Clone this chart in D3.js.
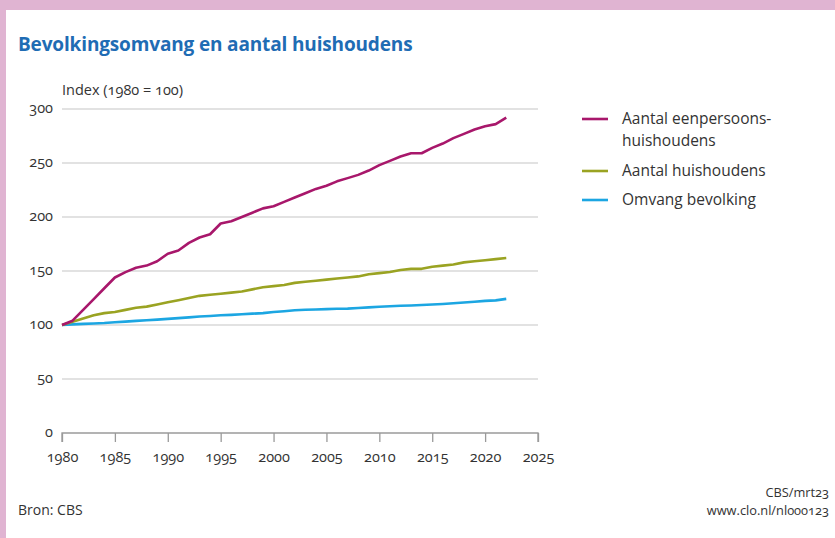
<!DOCTYPE html>
<html>
<head>
<meta charset="utf-8">
<script src="https://cdn.jsdelivr.net/npm/d3@7"></script>
<style>
  html, body { margin: 0; padding: 0; background: #ffffff; }
  svg { display: block; font-family: "Open Sans", "Noto Sans", sans-serif; font-feature-settings: "onum"; }
</style>
</head>
<body>
<svg id="chart" width="835" height="538"></svg>
<script>
const years = d3.range(1980, 2023);
const eenpersoons = [100,104,114,124,134,144,149,153,155,159,166,169,176,181,184,194,196,200,204,208,210,214,218,222,226,229,233,236,239,243,248,252,256,259,259,264,268,273,277,281,284,286,292];
const huishoudens = [100,103,106,109,111,112,114,116,117,119,121,123,125,127,128,129,130,131,133,135,136,137,139,140,141,142,143,144,145,147,148,149,151,152,152,154,155,156,158,159,160,161,162];
const bevolking = [100,100.6,101.0,101.4,101.8,102.5,103.1,103.8,104.4,105.0,105.7,106.4,107.1,107.8,108.4,109.0,109.4,110.0,110.5,111.0,112.0,112.8,113.6,114.1,114.4,114.7,115.0,115.2,115.7,116.3,116.9,117.4,117.8,118.1,118.5,119.0,119.5,120.1,120.8,121.5,122.3,122.8,124.2];
const seriesNames = ["Aantal eenpersoons-\nhuishoudens", "Aantal huishoudens", "Omvang bevolking"];
const seriesColors = ["#a8176b", "#9aa322", "#1ca6e2"];
const yTicks = [0, 50, 100, 150, 200, 250, 300];
const xTicks = [1980, 1985, 1990, 1995, 2000, 2005, 2010, 2015, 2020, 2025];

const svg = d3.select("#chart");

// frame
svg.append("rect").attr("x", 0).attr("y", 0).attr("width", 835).attr("height", 10).attr("fill", "#e0b4d2");
svg.append("rect").attr("x", 0).attr("y", 0).attr("width", 6).attr("height", 538).attr("fill", "#e0b4d2");

const x = d3.scaleLinear().domain([1980, 2025]).range([62, 538]);
const y = d3.scaleLinear().domain([0, 300]).range([433, 109]);

// title
svg.append("text").attr("x", 18).attr("y", 51)
  .attr("fill", "#1f6cb4").attr("font-size", 19).attr("font-weight", 700)
  .attr("letter-spacing", -0.15)
  .text("Bevolkingsomvang en aantal huishoudens");

svg.append("text").attr("x", 62).attr("y", 95)
  .attr("fill", "#333").attr("font-size", 14.5)
  .text("Index (1980 = 100)");

// grid
svg.append("g").selectAll("line").data(yTicks.filter(d => d > 0)).join("line")
  .attr("x1", x(1980)).attr("x2", x(2025))
  .attr("y1", d => y(d)).attr("y2", d => y(d))
  .attr("stroke", "#e2e2e2").attr("stroke-width", 2);

// y labels
svg.append("g").selectAll("text").data(yTicks).join("text")
  .attr("x", 53).attr("y", d => y(d)).attr("dy", "0.3em")
  .attr("text-anchor", "end").attr("fill", "#333").attr("font-size", 14.5)
  .text(d => d);

// x axis
const xAxis = d3.axisBottom(x).tickValues(xTicks).tickFormat(d3.format("d")).tickSize(9).tickPadding(10);
const gx = svg.append("g").attr("transform", `translate(0,${y(0)})`).call(xAxis);
gx.select(".domain").attr("stroke", "#9a9a9a").attr("stroke-width", 1.3).attr("d", `M${x(1980)},9V0H${x(2025)}V9`);
gx.selectAll(".tick line").attr("stroke", "#9a9a9a").attr("stroke-width", 1.3);
gx.selectAll(".tick text").attr("fill", "#333").attr("font-size", 14.5)
  .attr("font-family", "Open Sans, sans-serif");

// lines
const allSeries = [eenpersoons, huishoudens, bevolking];
const line = d3.line().x((d, i) => x(years[i])).y(d => y(d));
[2, 1, 0].forEach(k => {
  svg.append("path").datum(allSeries[k])
    .attr("d", line).attr("fill", "none")
    .attr("stroke", seriesColors[k]).attr("stroke-width", 2.6)
    .attr("stroke-linejoin", "round");
});

// legend
const legendY = [119, 171, 200];
seriesNames.forEach((name, k) => {
  const g = svg.append("g");
  g.append("line").attr("x1", 582).attr("x2", 608)
    .attr("y1", legendY[k]).attr("y2", legendY[k])
    .attr("stroke", seriesColors[k]).attr("stroke-width", 2.6);
  const t = g.append("text").attr("x", 622).attr("y", legendY[k] + 5)
    .attr("fill", "#333").attr("font-size", 15.5);
  name.split("\n").forEach((s, j) => {
    t.append("tspan").attr("x", 622).attr("dy", j === 0 ? 0 : 22).text(s);
  });
});

// footer
svg.append("text").attr("x", 18).attr("y", 515).attr("fill", "#333").attr("font-size", 14).text("Bron: CBS");
svg.append("text").attr("x", 829).attr("y", 497).attr("text-anchor", "end").attr("fill", "#333").attr("font-size", 12.8).text("CBS/mrt23");
svg.append("text").attr("x", 829).attr("y", 515).attr("text-anchor", "end").attr("fill", "#333").attr("font-size", 12.8).text("www.clo.nl/nl000123");
</script>
</body>
</html>
